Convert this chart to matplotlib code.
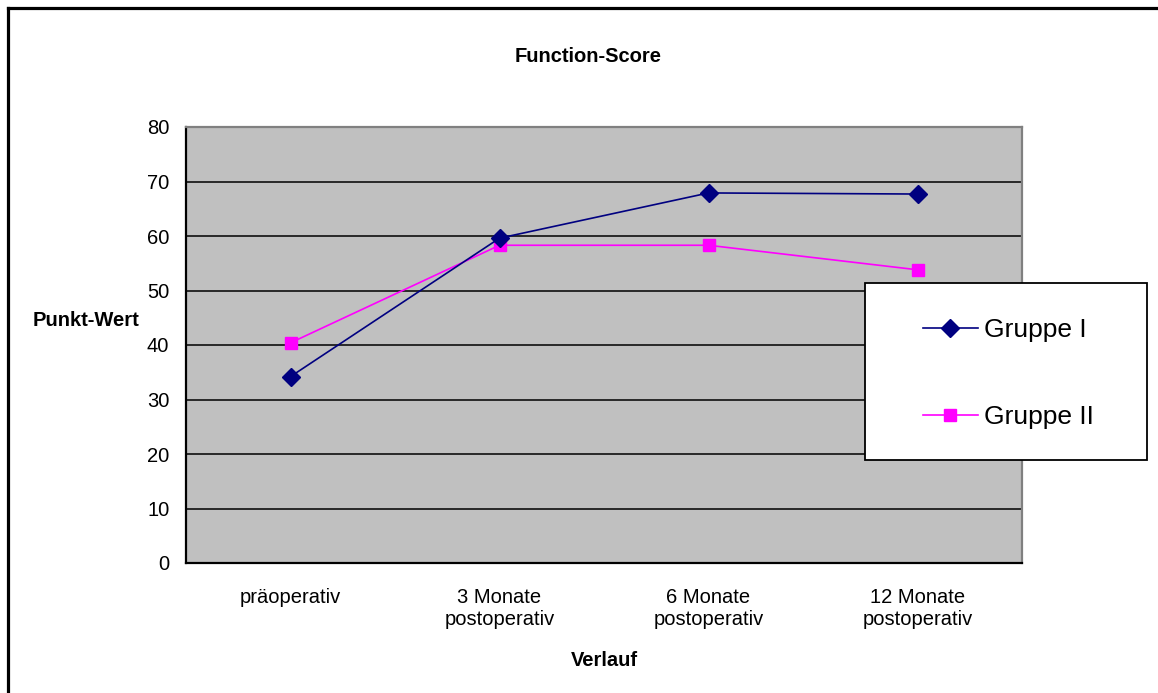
import matplotlib.pyplot as plt
from matplotlib.lines import Line2D
from matplotlib.patches import Rectangle

plt.rcParams['font.family'] = ['Liberation Sans', 'DejaVu Sans']

categories = ['präoperativ', '3 Monate\npostoperativ', '6 Monate\npostoperativ', '12 Monate\npostoperativ']
gruppe_1 = [34.2, 59.6, 67.9, 67.7]
gruppe_2 = [40.4, 58.3, 58.3, 53.8]
y_ticks = [0, 10, 20, 30, 40, 50, 60, 70, 80]

W, H = 1158, 693
fig = plt.figure(figsize=(W / 100, H / 100), dpi=100)
ax = fig.add_axes([186 / W, 1 - 563 / H, 836 / W, 436 / H])
ax.set_facecolor('#c0c0c0')

x = [i + 0.5 for i in range(len(categories))]
ax.plot(x, gruppe_1, color='#000080', lw=1.2, marker='D', ms=9,
        mfc='#000080', mec='#000080', label='Gruppe I', zorder=4)
ax.plot(x, gruppe_2, color='#ff00ff', lw=1.2, marker='s', ms=9,
        mfc='#ff00ff', mec='#ff00ff', label='Gruppe II', zorder=3)

ax.set_xlim(0, len(categories))
ax.set_ylim(0, 80)
ax.set_yticks(y_ticks)
ax.set_xticks(x)
ax.set_xticklabels(categories, fontsize=14.5, linespacing=1.2)
ax.tick_params(axis='y', labelsize=14.5, length=0, pad=12)
ax.tick_params(axis='x', length=0, pad=18)
for t in y_ticks[1:-1]:
    ax.axhline(t, color='black', lw=1.1, zorder=1)

for side in ['left', 'bottom']:
    ax.spines[side].set_color('black')
    ax.spines[side].set_linewidth(1.6)
for side in ['top', 'right']:
    ax.spines[side].set_color('#808080')
    ax.spines[side].set_linewidth(1.6)

fig.text(588 / W, 1 - 57 / H, 'Function-Score', fontsize=14.5,
         fontweight='bold', ha='center', va='center')
fig.text(33 / W, 1 - 321 / H, 'Punkt-Wert', fontsize=14.5,
         fontweight='bold', ha='left', va='center')
fig.text(604 / W, 1 - 661 / H, 'Verlauf', fontsize=14.5,
         fontweight='bold', ha='center', va='center')

# legend box drawn by hand, entries placed inside it
fig.add_artist(Rectangle((865 / W, 1 - 460 / H), 282 / W, 177 / H,
                         transform=fig.transFigure, facecolor='white',
                         edgecolor='black', lw=1.3, zorder=5))
leg = fig.legend(loc='center left', bbox_to_anchor=(923 / W, 1 - 373.5 / H),
                 fontsize=19, frameon=False, borderpad=0, labelspacing=2.38,
                 handlelength=2.08, handletextpad=0.23, borderaxespad=0)
leg.set_zorder(6)

# outer chart frame (left and top edges visible)
fig.add_artist(Line2D([8 / W, 8 / W], [0, 1 - 8 / H], color='black', lw=2.3))
fig.add_artist(Line2D([8 / W, 1], [1 - 8 / H, 1 - 8 / H], color='black', lw=2.3))

fig.savefig('out.png', dpi=100)
